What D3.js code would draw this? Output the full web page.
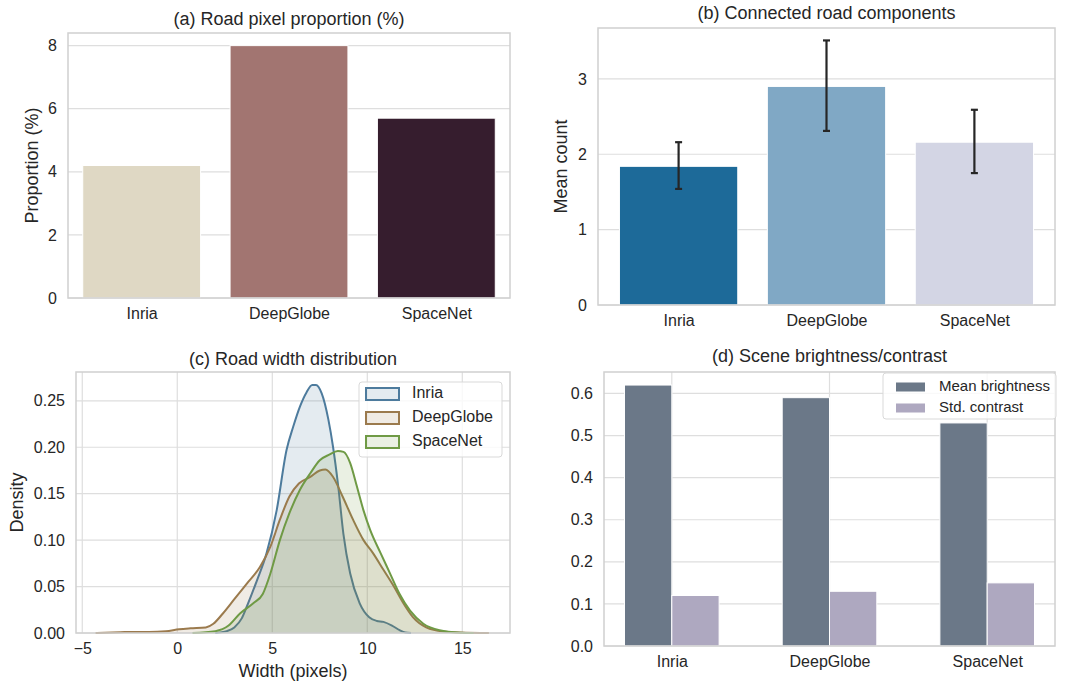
<!DOCTYPE html>
<html>
<head>
<meta charset="utf-8">
<script src="https://cdn.jsdelivr.net/npm/d3@7"></script>
<style>
body { margin: 0; background: #fff; }
text { font-family: "Liberation Sans", Arial, sans-serif; fill: #262626; }
</style>
</head>
<body>
<svg id="fig" width="1075" height="684"></svg>
<script>
// data
const datasets = ["Inria", "DeepGlobe", "SpaceNet"];
const roadProportion = [4.2, 8.0, 5.7];
const componentMean = [1.84, 2.90, 2.16];
const componentLow = [1.54, 2.31, 1.75];
const componentHigh = [2.16, 3.51, 2.59];
const brightness = [0.62, 0.59, 0.53];
const contrast = [0.12, 0.13, 0.15];
const sceneSeries = ["Mean brightness", "Std. contrast"];

// kde curves, [width, density]
const widthInria = [[2.0,0],[2.6,0.002],[3.0,0.006],[3.4,0.016],[3.65,0.028],[4.2,0.057],[4.7,0.086],[5.23,0.132],[5.75,0.197],[6.1,0.222],[6.46,0.244],[6.8,0.259],[7.1,0.267],[7.3,0.267],[7.6,0.258],[7.95,0.230],[8.2,0.200],[8.47,0.158],[8.74,0.107],[9.1,0.064],[9.6,0.032],[10.1,0.017],[10.5,0.013],[10.85,0.012],[11.3,0.008],[11.7,0.003],[12.0,0.0005],[12.3,0]];
const widthDeepGlobe = [[-4.3,0],[-3,0.0008],[-2.3,0.0012],[-1.5,0.0012],[-0.6,0.002],[0.1,0.004],[0.7,0.005],[1.5,0.006],[1.9,0.010],[2.4,0.021],[2.95,0.035],[3.65,0.053],[4.35,0.071],[4.9,0.093],[5.4,0.122],[5.9,0.147],[6.4,0.161],[7.0,0.168],[7.5,0.175],[7.8,0.176],[8.2,0.168],[8.7,0.147],[9.25,0.122],[9.8,0.100],[10.3,0.086],[10.85,0.068],[11.4,0.050],[11.9,0.032],[12.4,0.017],[13.1,0.006],[14.0,0.0015],[15.2,0.0002],[16.4,0]];
const widthSpaceNet = [[0.8,0],[2.0,0.002],[2.7,0.008],[3.3,0.021],[4.0,0.032],[4.5,0.042],[4.9,0.064],[5.4,0.100],[5.9,0.129],[6.45,0.154],[7.0,0.172],[7.5,0.186],[8.0,0.192],[8.45,0.196],[8.75,0.195],[9.1,0.183],[9.45,0.158],[9.8,0.132],[10.15,0.111],[10.7,0.086],[11.2,0.064],[11.7,0.042],[12.25,0.024],[12.95,0.010],[13.8,0.003],[14.9,0.0004],[15.6,0]];
const widthCurves = [widthInria, widthDeepGlobe, widthSpaceNet];

const svg = d3.select("#fig");
const gridColor = "#dedede";
const frameColor = "#d0d0d0";
const tickFont = 16;

function frame(x0, x1, y0, y1) {
    svg.append("rect")
        .attr("x", x0).attr("y", y0)
        .attr("width", x1 - x0).attr("height", y1 - y0)
        .attr("fill", "none")
        .attr("stroke", frameColor)
        .attr("stroke-width", 1.5);
}

function hGrid(y, ticks, x0, x1) {
    svg.append("g").selectAll("line")
        .data(ticks)
        .join("line")
        .attr("x1", x0).attr("x2", x1)
        .attr("y1", d => y(d)).attr("y2", d => y(d))
        .attr("stroke", gridColor).attr("stroke-width", 1.2);
}

function vGrid(x, ticks, y0, y1) {
    svg.append("g").selectAll("line")
        .data(ticks)
        .join("line")
        .attr("x1", d => x(d)).attr("x2", d => x(d))
        .attr("y1", y0).attr("y2", y1)
        .attr("stroke", gridColor).attr("stroke-width", 1.2);
}

function leftAxis(y, ticks, x0, fmt) {
    const g = svg.append("g")
        .attr("transform", `translate(${x0},0)`)
        .call(d3.axisLeft(y).tickValues(ticks).tickFormat(fmt).tickSize(0).tickPadding(11));
    g.select(".domain").remove();
    g.selectAll("text").attr("font-size", tickFont).attr("fill", "#262626")
        .style("font-family", '"Liberation Sans", Arial, sans-serif');
}

function bottomAxis(x, ticks, y0, fmt) {
    const g = svg.append("g")
        .attr("transform", `translate(0,${y0})`)
        .call(d3.axisBottom(x).tickValues(ticks).tickFormat(fmt).tickSize(0).tickPadding(10));
    g.select(".domain").remove();
    g.selectAll("text").attr("font-size", tickFont).attr("fill", "#262626")
        .style("font-family", '"Liberation Sans", Arial, sans-serif');
}

function title(txt, cx, cy) {
    svg.append("text").text(txt)
        .attr("x", cx).attr("y", cy)
        .attr("text-anchor", "middle")
        .attr("dominant-baseline", "middle")
        .attr("font-size", 18);
}

function yLabel(txt, cx, cy) {
    svg.append("text").text(txt)
        .attr("transform", `translate(${cx},${cy}) rotate(-90)`)
        .attr("text-anchor", "middle")
        .attr("dominant-baseline", "middle")
        .attr("font-size", 18);
}

const idx = d3.range(datasets.length);

// ---------- (a) road pixel proportion
{
    const L = 68, R = 510, T = 33, B = 298;
    const x = d3.scaleLinear().domain([-0.5, 2.5]).range([L, R]);
    const y = d3.scaleLinear().domain([0, 8.4]).range([B, T]);
    const colors = ["#dfd8c4", "#a27571", "#361d2e"];
    hGrid(y, [0, 2, 4, 6, 8], L, R);
    svg.append("g").selectAll("rect")
        .data(idx)
        .join("rect")
        .attr("x", i => x(i - 0.4))
        .attr("width", x(0.8) - x(0))
        .attr("y", i => y(roadProportion[i]))
        .attr("height", i => y(0) - y(roadProportion[i]))
        .attr("fill", i => colors[i])
        .attr("stroke", "#fff").attr("stroke-width", 1);
    frame(L, R, T, B);
    leftAxis(y, [0, 2, 4, 6, 8], L, d3.format("d"));
    bottomAxis(x, idx, B, i => datasets[i]);
    title("(a) Road pixel proportion (%)", (L + R) / 2, T - 13);
    yLabel("Proportion (%)", 33, (T + B) / 2);
}

// ---------- (b) connected road components
{
    const L = 598, R = 1055, T = 28, B = 305;
    const x = d3.scaleLinear().domain([-0.545, 2.545]).range([L, R]);
    const y = d3.scaleLinear().domain([0, 3.675]).range([B, T]);
    const colors = ["#1d6a99", "#80a8c5", "#d3d5e4"];
    hGrid(y, [0, 1, 2, 3], L, R);
    svg.append("g").selectAll("rect")
        .data(idx)
        .join("rect")
        .attr("x", i => x(i - 0.4))
        .attr("width", x(0.8) - x(0))
        .attr("y", i => y(componentMean[i]))
        .attr("height", i => y(0) - y(componentMean[i]))
        .attr("fill", i => colors[i])
        .attr("stroke", "#fff").attr("stroke-width", 1);
    const err = svg.append("g").attr("stroke", "#262626").attr("stroke-width", 2.2);
    err.selectAll("line.v")
        .data(idx).join("line").attr("class", "v")
        .attr("x1", i => x(i)).attr("x2", i => x(i))
        .attr("y1", i => y(componentLow[i])).attr("y2", i => y(componentHigh[i]));
    err.selectAll("line.hi")
        .data(idx).join("line").attr("class", "hi")
        .attr("x1", i => x(i) - 3.5).attr("x2", i => x(i) + 3.5)
        .attr("y1", i => y(componentHigh[i])).attr("y2", i => y(componentHigh[i]));
    err.selectAll("line.lo")
        .data(idx).join("line").attr("class", "lo")
        .attr("x1", i => x(i) - 3.5).attr("x2", i => x(i) + 3.5)
        .attr("y1", i => y(componentLow[i])).attr("y2", i => y(componentLow[i]));
    frame(L, R, T, B);
    leftAxis(y, [0, 1, 2, 3], L, d3.format("d"));
    bottomAxis(x, idx, B, i => datasets[i]);
    title("(b) Connected road components", (L + R) / 2, T - 14);
    yLabel("Mean count", 562, (T + B) / 2);
}

// ---------- (c) road width distribution
{
    const L = 76, R = 510, T = 372, B = 633;
    const x = d3.scaleLinear().domain([-5.33, 17.51]).range([L, R]);
    const y = d3.scaleLinear().domain([0, 0.281]).range([B, T]);
    const colors = ["#4d7b9d", "#9b7a4d", "#6f9a45"];
    const yt = [0, 0.05, 0.10, 0.15, 0.20, 0.25];
    const xt = [-5, 0, 5, 10, 15];
    hGrid(y, yt, L, R);
    vGrid(x, xt, T, B);
    const area = d3.area().x(d => x(d[0])).y0(y(0)).y1(d => y(d[1])).curve(d3.curveMonotoneX);
    const line = d3.line().x(d => x(d[0])).y(d => y(d[1])).curve(d3.curveMonotoneX);
    widthCurves.forEach((c, i) => {
        svg.append("path").datum(c).attr("d", area)
            .attr("fill", colors[i]).attr("fill-opacity", 0.15);
        svg.append("path").datum(c).attr("d", line)
            .attr("fill", "none").attr("stroke", colors[i]).attr("stroke-width", 2);
    });
    frame(L, R, T, B);
    leftAxis(y, yt, L, d3.format(".2f"));
    bottomAxis(x, xt, B, d3.format("d"));
    title("(c) Road width distribution", (L + R) / 2, T - 12);
    yLabel("Density", 18, (T + B) / 2);
    svg.append("text").text("Width (pixels)")
        .attr("x", (L + R) / 2).attr("y", 672)
        .attr("text-anchor", "middle").attr("dominant-baseline", "middle")
        .attr("font-size", 18);

    const lg = svg.append("g");
    lg.append("rect").attr("x", 359).attr("y", 382).attr("width", 143).attr("height", 75)
        .attr("rx", 3).attr("fill", "#fff").attr("fill-opacity", 0.8)
        .attr("stroke", "#d9d9d9").attr("stroke-width", 1);
    datasets.forEach((d, i) => {
        const cy = 394 + i * 24;
        lg.append("rect").attr("x", 366).attr("y", cy - 6).attr("width", 33).attr("height", 12)
            .attr("fill", colors[i]).attr("fill-opacity", 0.15)
            .attr("stroke", colors[i]).attr("stroke-width", 2);
        lg.append("text").text(d).attr("x", 412).attr("y", cy)
            .attr("dominant-baseline", "middle").attr("font-size", 16);
    });
}

// ---------- (d) scene brightness/contrast
{
    const L = 604, R = 1055, T = 372, B = 646;
    const x = d3.scaleLinear().domain([-0.43, 2.43]).range([L, R]);
    const y = d3.scaleLinear().domain([0, 0.651]).range([B, T]);
    const colors = ["#6b7888", "#aea8c0"];
    const yt = [0, 0.1, 0.2, 0.3, 0.4, 0.5, 0.6];
    hGrid(y, yt, L, R);
    vGrid(x, idx, T, B);
    const w = 0.3;
    [brightness, contrast].forEach((vals, s) => {
        svg.append("g").selectAll("rect")
            .data(idx)
            .join("rect")
            .attr("x", i => x(i + (s === 0 ? -w : 0)))
            .attr("width", x(w) - x(0))
            .attr("y", i => y(vals[i]))
            .attr("height", i => y(0) - y(vals[i]))
            .attr("fill", colors[s])
            .attr("stroke", "#fff").attr("stroke-width", 1);
    });
    frame(L, R, T, B);
    leftAxis(y, yt, L, d3.format(".1f"));
    bottomAxis(x, idx, B, i => datasets[i]);
    title("(d) Scene brightness/contrast", (L + R) / 2, T - 15);

    const lg = svg.append("g");
    lg.append("rect").attr("x", 883).attr("y", 373).attr("width", 173).attr("height", 46)
        .attr("rx", 3).attr("fill", "#fff").attr("fill-opacity", 0.8)
        .attr("stroke", "#d9d9d9").attr("stroke-width", 1);
    sceneSeries.forEach((d, i) => {
        const cy = 387 + i * 21;
        lg.append("rect").attr("x", 896).attr("y", cy - 4.5).attr("width", 29).attr("height", 9)
            .attr("fill", colors[i]);
        lg.append("text").text(d).attr("x", 939).attr("y", cy)
            .attr("dominant-baseline", "middle").attr("font-size", 15);
    });
}
</script>
</body>
</html>
